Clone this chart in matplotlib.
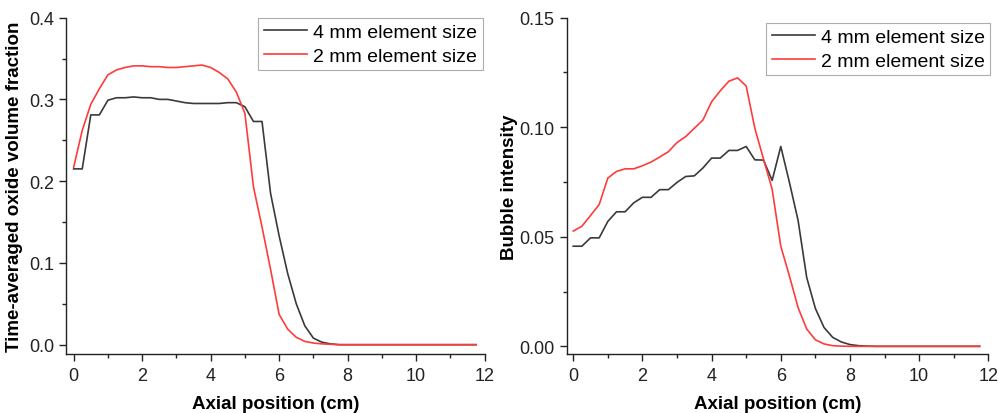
import matplotlib
matplotlib.use("Agg")
import matplotlib.pyplot as plt
from matplotlib.ticker import MultipleLocator

plt.rcParams['font.family'] = ['Liberation Sans', 'DejaVu Sans']

# axial positions (cm), 0.25 cm sampling
x_pos = [0.0, 0.25, 0.5, 0.75, 1.0, 1.25, 1.5, 1.75, 2.0, 2.25, 2.5, 2.75,
         3.0, 3.25, 3.5, 3.75, 4.0, 4.25, 4.5, 4.75, 5.0, 5.25, 5.5, 5.75,
         6.0, 6.25, 6.5, 6.75, 7.0, 7.25, 7.5, 7.75, 8.0, 8.25, 8.5, 8.75,
         9.0, 9.25, 9.5, 9.75, 10.0, 10.25, 10.5, 10.75, 11.0, 11.25, 11.5, 11.75]

# time-averaged oxide volume fraction
oxide_4mm = [0.215, 0.215, 0.281, 0.281, 0.299, 0.302, 0.302, 0.303, 0.302, 0.302, 0.300, 0.300,
             0.298, 0.296, 0.295, 0.295, 0.295, 0.295, 0.296, 0.296, 0.291, 0.273, 0.273, 0.185,
             0.133, 0.087, 0.050, 0.023, 0.008, 0.003, 0.001, 0.0, 0.0, 0.0, 0.0, 0.0,
             0.0, 0.0, 0.0, 0.0, 0.0, 0.0, 0.0, 0.0, 0.0, 0.0, 0.0, 0.0]
oxide_2mm = [0.217, 0.262, 0.294, 0.313, 0.330, 0.336, 0.339, 0.341, 0.341, 0.340, 0.340, 0.339,
             0.339, 0.340, 0.341, 0.342, 0.339, 0.333, 0.325, 0.309, 0.283, 0.193, 0.144, 0.092,
             0.037, 0.019, 0.009, 0.004, 0.002, 0.001, 0.0005, 0.0, 0.0, 0.0, 0.0, 0.0,
             0.0, 0.0, 0.0, 0.0, 0.0, 0.0, 0.0, 0.0, 0.0, 0.0, 0.0, 0.0]

# bubble intensity
bubble_4mm = [0.0457, 0.0457, 0.0495, 0.0495, 0.0570, 0.0614, 0.0614, 0.0655, 0.0680, 0.0680, 0.0715, 0.0715,
              0.0748, 0.0775, 0.0778, 0.0814, 0.0859, 0.0859, 0.0894, 0.0894, 0.0912, 0.0851, 0.0850, 0.0757,
              0.0912, 0.0748, 0.0575, 0.0314, 0.0173, 0.0086, 0.0041, 0.0020, 0.0008, 0.0003, 0.0001, 0.0,
              0.0, 0.0, 0.0, 0.0, 0.0, 0.0, 0.0, 0.0, 0.0, 0.0, 0.0, 0.0]
bubble_2mm = [0.0526, 0.0548, 0.0597, 0.0647, 0.0768, 0.0798, 0.0810, 0.0810, 0.0824, 0.0841, 0.0864, 0.0888,
              0.0930, 0.0957, 0.0995, 0.1033, 0.1116, 0.1166, 0.1210, 0.1225, 0.1188, 0.0995, 0.0855, 0.0717,
              0.0457, 0.0321, 0.0177, 0.0079, 0.0030, 0.0011, 0.0003, 0.0001, 0.0, 0.0, 0.0, 0.0,
              0.0, 0.0, 0.0, 0.0, 0.0, 0.0, 0.0, 0.0, 0.0, 0.0, 0.0, 0.0]

labels = ["4 mm element size", "2 mm element size"]
colors = ["#3a3a3a", "#ff3b3b"]

fig = plt.figure(figsize=(9.98, 4.14), dpi=100)
ax1 = fig.add_axes([0.0666, 0.1425, 0.419, 0.8125])
ax2 = fig.add_axes([0.5678, 0.1425, 0.4225, 0.8125])


def style_axis(ax, ylim, ymajor, yminor, yfmt):
    ax.set_xlim(-0.21, 12)
    ax.set_ylim(*ylim)
    ax.xaxis.set_major_locator(MultipleLocator(2))
    ax.xaxis.set_minor_locator(MultipleLocator(1))
    ax.yaxis.set_major_locator(MultipleLocator(ymajor))
    ax.yaxis.set_minor_locator(MultipleLocator(yminor))
    ax.yaxis.set_major_formatter(yfmt)
    for s in ['top', 'right']:
        ax.spines[s].set_visible(False)
    for s in ['left', 'bottom']:
        ax.spines[s].set_linewidth(1.0)
        ax.spines[s].set_color('#222222')
    ax.tick_params(which='major', direction='out', length=5, width=1.0,
                   labelsize=13, color='#222222', labelcolor='#222222', pad=4)
    ax.tick_params(which='minor', direction='out', length=3, width=1.0, color='#222222')
    ax.set_xlabel("Axial position (cm)", fontsize=13.5, fontweight='bold', labelpad=8)


ax1.plot(x_pos, oxide_4mm, color=colors[0], lw=1.2, label=labels[0])
ax1.plot(x_pos, oxide_2mm, color=colors[1], lw=1.2, label=labels[1])
style_axis(ax1, (-0.0114, 0.4), 0.1, 0.05, '{x:.1f}')
ax1.set_ylabel("Time-averaged oxide volume fraction", fontsize=13.5, fontweight='bold', labelpad=4)

ax2.plot(x_pos, bubble_4mm, color=colors[0], lw=1.2, label=labels[0])
ax2.plot(x_pos, bubble_2mm, color=colors[1], lw=1.2, label=labels[1])
style_axis(ax2, (-0.0035, 0.15), 0.05, 0.025, '{x:.2f}')
ax2.set_xlim(-0.19, 12)
ax2.set_ylabel("Bubble intensity", fontsize=13.5, fontweight='bold', labelpad=1)

for ax, anchor in [(ax1, (0.995, 1.0)), (ax2, (1.005, 0.985))]:
    leg = ax.legend(loc='upper right', bbox_to_anchor=anchor, fontsize=14,
                    frameon=True, fancybox=False, edgecolor='#999999',
                    handlelength=2.2, handletextpad=0.3, labelspacing=0.3,
                    borderpad=0.3, borderaxespad=0.0)
    leg.get_frame().set_linewidth(0.8)

fig.savefig("out.png", dpi=100)
